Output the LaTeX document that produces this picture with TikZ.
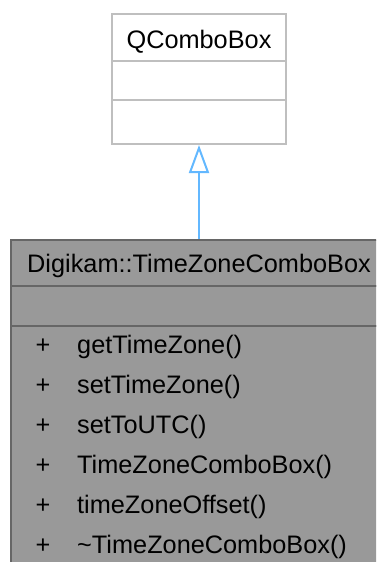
\documentclass[tikz,border=0pt]{standalone}
\usepackage{fontspec}
\setmainfont{Liberation Sans}
\usetikzlibrary{arrows.meta}
\definecolor{edgeblue}{HTML}{63B8FF}
\definecolor{lightborder}{HTML}{BFBFBF}
\definecolor{darkfill}{HTML}{999999}
\definecolor{darkborder}{HTML}{666666}
\begin{document}
\begin{tikzpicture}[x=1pt,y=-1pt,
  lightbox/.style={draw=lightborder,fill=white,line width=2pt,rectangle,inner sep=0pt,minimum width=174pt},
  darkbox/.style={draw=darkborder,fill=darkfill,line width=2pt,rectangle,inner sep=0pt,minimum width=376pt},
  txt/.style={inner sep=0pt,font=\fontsize{25.3}{30}\selectfont},
  inherit/.style={draw=edgeblue,line width=2pt,-{Triangle[open,length=28pt,width=20pt,line width=2pt]}}
]
\useasboundingbox (0,0) rectangle (376,562);
\clip (0,0) rectangle (376,562);
% base class
\node[lightbox,minimum height=47pt] (qtitle) at (199,37.5) {};
\node[lightbox,minimum height=39pt] (qattr) at (199,80.5) {};
\node[lightbox,minimum height=44pt] (qops) at (199,122) {};
\node[txt,anchor=base] (qname) at (199,48) {QComboBox};
% derived class
\node[darkbox,minimum height=46pt] (dtitle) at (199,263) {};
\node[darkbox,minimum height=40pt] (dattr) at (199,306) {};
\node[darkbox,minimum height=244pt] (dops) at (199,448) {};
\node[txt,anchor=base] (dname) at (199,272) {Digikam::TimeZoneComboBox};
\foreach \t [count=\i from 0] in {getTimeZone(),setTimeZone(),setToUTC(),TimeZoneComboBox(),timeZoneOffset(),\textasciitilde TimeZoneComboBox()}{
  \node[txt,anchor=base] (p\i) at (43,353+40*\i) {+};
  \node[txt,anchor=base west] (m\i) at (77,353+40*\i) {\t};
}
\draw[inherit] (dtitle.north) -- (qops.south);
\end{tikzpicture}
\end{document}
